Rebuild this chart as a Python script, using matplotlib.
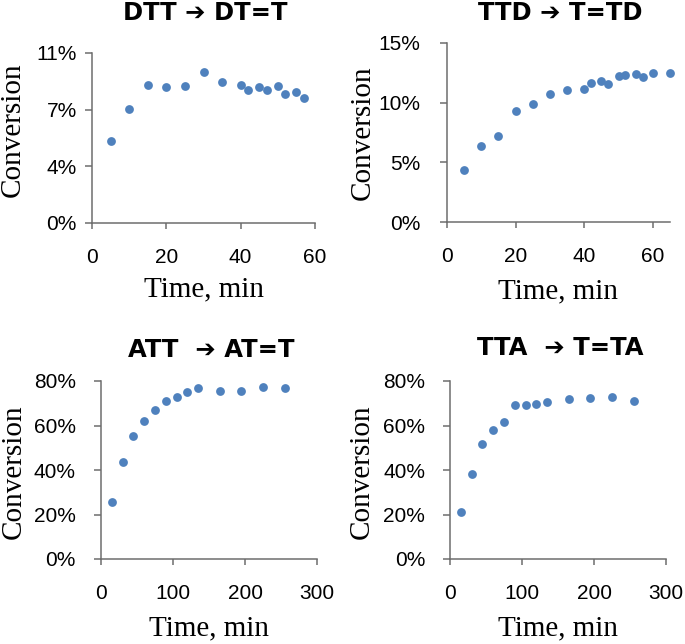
import numpy as np
import matplotlib
matplotlib.use("Agg")
import matplotlib.pyplot as plt
from matplotlib.ticker import FuncFormatter

# DTT -> DT=T
t_dtt = [5, 10, 15, 20, 25, 30, 35, 40, 42, 45, 47, 50, 52, 55, 57]
c_dtt = [5.3, 7.4, 8.95, 8.8, 8.85, 9.75, 9.15, 8.95, 8.6, 8.8, 8.6, 8.85, 8.35, 8.5, 8.1]

# TTD -> T=TD
t_ttd = [5, 10, 15, 20, 25, 30, 35, 40, 42, 45, 47, 50, 52, 55, 57, 60, 65]
c_ttd = [4.35, 6.35, 7.2, 9.3, 9.85, 10.7, 11.05, 11.15, 11.65, 11.8, 11.55,
         12.2, 12.35, 12.4, 12.15, 12.5, 12.5]

# ATT -> AT=T
t_att = [15, 30, 45, 60, 75, 90, 105, 120, 135, 165, 195, 225, 255]
c_att = [25.5, 43.4, 55.2, 62.2, 67.0, 71.2, 72.7, 75.1, 76.7, 75.4, 75.7, 77.2, 77.0]

# TTA -> T=TA
t_tta = [15, 30, 45, 60, 75, 90, 105, 120, 135, 165, 195, 225, 255]
c_tta = [21.3, 38.1, 51.9, 57.8, 61.5, 69.3, 69.3, 69.7, 70.6, 71.8, 72.2, 73.0, 71.2]

titles = ["DTT \u2794 DT=T", "TTD \u2794 T=TD", "ATT  \u2794 AT=T", "TTA  \u2794 T=TA"]

W, H = 685, 644
fig = plt.figure(figsize=(W / 100, H / 100), dpi=100)

# panel boxes in pixels: left, top, right, bottom
boxes = [(92, 53, 315, 223), (447, 43, 670, 222),
         (101, 381, 317, 559), (450, 381, 666, 559)]
panels = [(t_dtt, c_dtt, 60, 11, np.linspace(0, 11, 4), [0, 20, 40, 60]),
          (t_ttd, c_ttd, 65, 15, [0, 5, 10, 15], [0, 20, 40, 60]),
          (t_att, c_att, 300, 80, [0, 20, 40, 60, 80], [0, 100, 200, 300]),
          (t_tta, c_tta, 300, 80, [0, 20, 40, 60, 80], [0, 100, 200, 300])]
ypads = [6, 14, 13, 13]
ylab_x = [-0.355, -0.38, -0.405, -0.41]
ylab_y = [0.55, 0.50, 0.49, 0.49]
title_base = [20, 20, 357, 355]

spine_col = "#6d6d6d"
dot_col = "#4f81bd"

for i, (box, (t, c, xmax, ymax, yt, xt)) in enumerate(zip(boxes, panels)):
    l, tp, r, b = box
    ax = fig.add_axes([l / W, 1 - b / H, (r - l) / W, (b - tp) / H])
    ax.scatter(t, c, s=40, color=dot_col, zorder=3, clip_on=False, linewidths=0)
    ax.set_xlim(0, xmax)
    ax.set_ylim(0, ymax)
    ax.set_xticks(xt)
    ax.set_yticks(yt)
    ax.yaxis.set_major_formatter(FuncFormatter(lambda v, p: f"{v:.0f}%"))
    for s in ["top", "right"]:
        ax.spines[s].set_visible(False)
    for s in ["left", "bottom"]:
        ax.spines[s].set_color(spine_col)
        ax.spines[s].set_linewidth(1.1)
    ax.tick_params(axis="y", direction="out", length=5, width=1.1, color=spine_col,
                   pad=ypads[i], labelsize=15)
    ax.tick_params(axis="x", direction="out", length=4, width=1.1, color=spine_col,
                   pad=14, labelsize=15)
    for lab in ax.get_xticklabels() + ax.get_yticklabels():
        lab.set_family("Liberation Sans")
    ax.text(ylab_x[i], ylab_y[i], "Conversion", transform=ax.transAxes, rotation=90,
            ha="center", va="center", fontsize=21, family="Liberation Serif")
    ax.text(0.5, -0.39, "Time, min", transform=ax.transAxes, ha="center", va="center",
            fontsize=21, family="Liberation Serif")
    fig.text((l + r) / 2 / W + 0.003, 1 - title_base[i] / H, titles[i], ha="center",
             va="baseline", fontsize=17.5, fontweight="bold", family=["DejaVu Sans"])

fig.savefig("out.png", dpi=100)
